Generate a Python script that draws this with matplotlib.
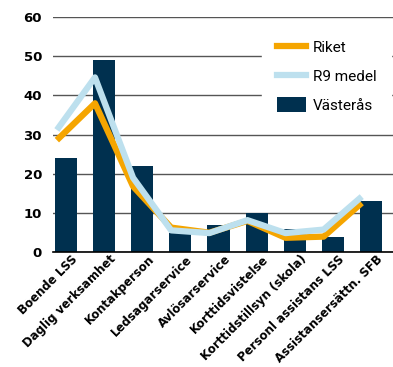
import numpy as np
import matplotlib.pyplot as plt
import matplotlib.transforms as mtransforms
from matplotlib.lines import Line2D
from matplotlib.patches import Patch

# categories and values
kategorier = ["Boende LSS", "Daglig verksamhet", "Kontakperson", "Ledsagarservice",
              "Avlösarservice", "Korttidsvistelse", "Korttidstillsyn (skola)",
              "Personl assistans LSS", "Assistansersättn. SFB"]
vasteras = [24, 49, 22, 5, 7, 10, 6, 4, 13]
riket = [28.6, 38, 16.8, 6.3, 5, 8, 3.7, 4, 12.6]
r9_medel = [31.2, 44.6, 19, 5.6, 4.9, 8.2, 4.9, 5.8, 14.2]

navy = "#00304f"
orange = "#f5a500"
ljusbla = "#bde0ee"

fig = plt.figure(figsize=(3.93, 3.67), dpi=100)
ax = fig.add_axes([0.135, 0.3125, 0.865, 0.6412])

x = np.arange(len(kategorier))
ax.bar(x, vasteras, width=0.58, color=navy, zorder=2)
# lines sit a bit left of the bar centres
ax.plot(x - 0.24, riket, color=orange, lw=4.5, solid_capstyle="butt", zorder=3)
ax.plot(x - 0.24, r9_medel, color=ljusbla, lw=4.5, solid_capstyle="butt", zorder=4)

ax.set_ylim(0, 60)
ax.set_xlim(-0.34, 8.58)
ax.set_yticks(range(0, 61, 10))
ax.yaxis.grid(True, color="#555555", lw=1.0)
ax.set_axisbelow(True)
for s in ["left", "right", "top"]:
    ax.spines[s].set_visible(False)
ax.spines["bottom"].set_color("black")
ax.spines["bottom"].set_linewidth(1.2)
ax.tick_params(axis="both", length=0, pad=8)
ax.tick_params(axis="x", pad=0)

ax.set_xticks(x)
ax.set_xticklabels(kategorier, rotation=45, ha="right", va="center",
                   rotation_mode="anchor", fontsize=8.5, fontweight="bold",
                   family="DejaVu Sans")
# push the rotated labels right/down a little
skift = mtransforms.ScaledTranslation(10 / 100, -5 / 100, fig.dpi_scale_trans)
for t in ax.get_xticklabels():
    t.set_transform(t.get_transform() + skift)
for t in ax.get_yticklabels():
    t.set_fontweight("bold")
    t.set_fontsize(9.5)

handles = [Line2D([], [], color=orange, lw=4.5),
           Line2D([], [], color=ljusbla, lw=4.5),
           Patch(facecolor=navy)]
leg = ax.legend(handles, ["Riket", "R9 medel", "Västerås"], loc="upper left",
                bbox_to_anchor=(0.615, 0.97), frameon=True, fancybox=False,
                edgecolor="white", facecolor="white", framealpha=1,
                prop={"family": ["Roboto", "DejaVu Sans"], "size": 11},
                handlelength=1.9, handleheight=1.1, handletextpad=0.4,
                labelspacing=0.88, borderpad=1.0, borderaxespad=0)
leg.set_zorder(5)

fig.savefig("out.png", dpi=100)
